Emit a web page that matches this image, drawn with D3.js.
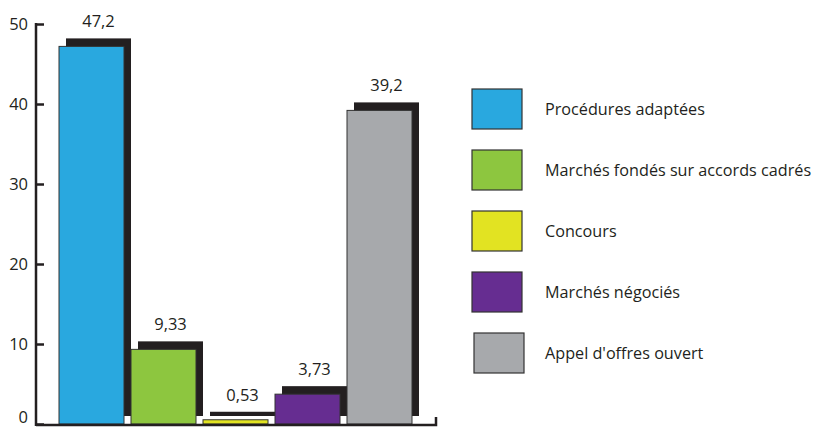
<!DOCTYPE html>
<html><head><meta charset="utf-8">
<script src="https://cdn.jsdelivr.net/npm/d3@7"></script>
<style>body{margin:0;background:#fff}svg{display:block}text{font-family:"Open Sans",sans-serif;fill:#231f20}</style>
</head><body>
<svg id="c" width="817" height="429"></svg>
<script>
const categories = ["Procédures adaptées","Marchés fondés sur accords cadrés","Concours","Marchés négociés","Appel d'offres ouvert"];
const values = [47.2, 9.33, 0.53, 3.73, 39.2];
const labels = ["47,2","9,33","0,53","3,73","39,2"];
const colors = ["#29a8df","#8dc63f","#e2e322","#662d91","#a7a9ac"];
const yTicks = [0,10,20,30,40,50];

const svg = d3.select("#c");
const y = d3.scaleLinear().domain([0,50]).range([424,24]);
const x = d3.scaleBand().domain(categories).range([59,412]).paddingInner(7/72).paddingOuter(0);
const dx = 7, dy = 8;
const ink = "#231f20";

svg.selectAll("rect.sh").data(categories).join("rect").attr("class","sh")
  .attr("x", d=>x(d)+dx).attr("y", (d,i)=>y(values[i])-dy)
  .attr("width", x.bandwidth()).attr("height",(d,i)=>y(0)-y(values[i]))
  .attr("fill", ink);
svg.selectAll("rect.bar").data(categories).join("rect").attr("class","bar")
  .attr("x", d=>x(d)).attr("y", (d,i)=>y(values[i]))
  .attr("width", x.bandwidth()).attr("height",(d,i)=>y(0)-y(values[i]))
  .attr("fill",(d,i)=>colors[i]).attr("stroke","#333").attr("stroke-width",1);
svg.selectAll("text.val").data(categories).join("text").attr("class","val")
  .attr("x", d=>x(d)+dx+x.bandwidth()/2).attr("y",(d,i)=>y(values[i])-dy-11)
  .attr("text-anchor","middle").style("font-size","16.5px").text((d,i)=>labels[i]);

const ya = svg.append("g").attr("transform","translate(36,0)")
  .call(d3.axisRight(y).tickValues(yTicks).tickSize(8).tickFormat(d=>d));
ya.attr("font-size",null).attr("font-family",null);
ya.select(".domain").remove();
ya.selectAll(".tick line").attr("stroke",ink).attr("stroke-width",2.5);
ya.selectAll(".tick text").attr("x",-8).attr("text-anchor","end")
  .attr("y",(d)=>d===0?-7:0).attr("dy","0.35em")
  .attr("fill",ink).style("font-size","16.5px").style("font-family","'Open Sans',sans-serif");
svg.append("line").attr("x1",36).attr("x2",36).attr("y1",y(50)-1).attr("y2",426)
  .attr("stroke",ink).attr("stroke-width",2.5);
svg.append("path").attr("d",`M36,425H436V417`).attr("fill","none").attr("stroke",ink).attr("stroke-width",2.5);

const lg = svg.append("g");
const ly = d3.scaleBand().domain(categories).range([89,373]).paddingInner(21/61).paddingOuter(0);
lg.selectAll("rect").data(categories).join("rect")
  .attr("x",(d,i)=>i===4?474:472).attr("y",d=>ly(d)).attr("width",50).attr("height",ly.bandwidth())
  .attr("fill",(d,i)=>colors[i]).attr("stroke","#333").attr("stroke-width",1.2);
lg.selectAll("text").data(categories).join("text")
  .attr("x",545).attr("y",d=>ly(d)+ly.bandwidth()/2).attr("dy","0.35em")
  .style("font-size","16.2px").text(d=>d);
</script>
</body></html>
